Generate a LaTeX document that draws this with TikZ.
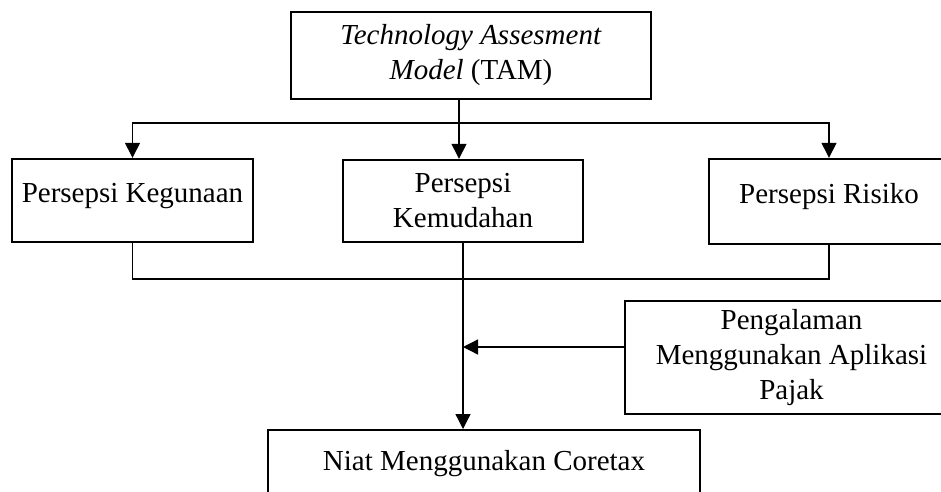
\documentclass[tikz,border=0pt]{standalone}
\usepackage{fontspec}
\setmainfont{Liberation Serif}
\usepackage{tikz}
\usetikzlibrary{arrows.meta}
\usetikzlibrary{positioning}

\tikzset{
	box/.style={draw, line width=2.4pt, inner sep=0pt, align=center,
		font=\fontsize{29}{35}\selectfont},
	link/.style={draw, line width=1.3pt},
	arrowlink/.style={link, -{Triangle[width=15pt,length=15pt]}}
}

\begin{document}
\begin{tikzpicture}[x=1pt, y=-1pt]
	\useasboundingbox (0,0) rectangle (941,491);
	\clip (0,0) rectangle (941,491);
	
	% boxes
	\node[box, minimum width=360pt, minimum height=87pt] (tam) at (471,55.5)
		{\textit{Technology Assesment}\\\textit{Model} (TAM)};
	\node[box, minimum width=241pt, minimum height=83pt, text depth=16pt] (kegunaan) at (132.5,200.5)
		{Persepsi Kegunaan};
	\node[box, minimum width=240pt, minimum height=82pt] (kemudahan) at (463,201)
		{Persepsi\\Kemudahan};
	\node[box, minimum width=240pt, minimum height=85pt, text depth=16pt] (risiko) at (829,201.5)
		{Persepsi Risiko};
	\node[box, minimum width=333pt, minimum height=113pt] (pengalaman) at (791.5,357.5)
		{Pengalaman\\Menggunakan Aplikasi\\Pajak};
	\node[box, minimum width=432pt, minimum height=66pt, anchor=north] (niat) at (484,429)
		{Niat Menggunakan Coretax};
	
	% connectors
	\coordinate (split) at (459,123);
	\coordinate (join) at (463,279);
	\coordinate (meet) at (463,347);
	
	\draw[link] (split |- tam.south) -- (split);
	\draw[arrowlink] (split) -- (split |- kemudahan.north);
	\draw[arrowlink] (split) -| (kegunaan.north);
	\draw[arrowlink] (split) -| (risiko.north);
	\draw[link] (kegunaan.south) |- (join) -| (risiko.south);
	\draw[arrowlink] (kemudahan.south) -- (kemudahan.south |- niat.north);
	\draw[arrowlink] (meet -| pengalaman.west) -- (meet);
\end{tikzpicture}
\end{document}
